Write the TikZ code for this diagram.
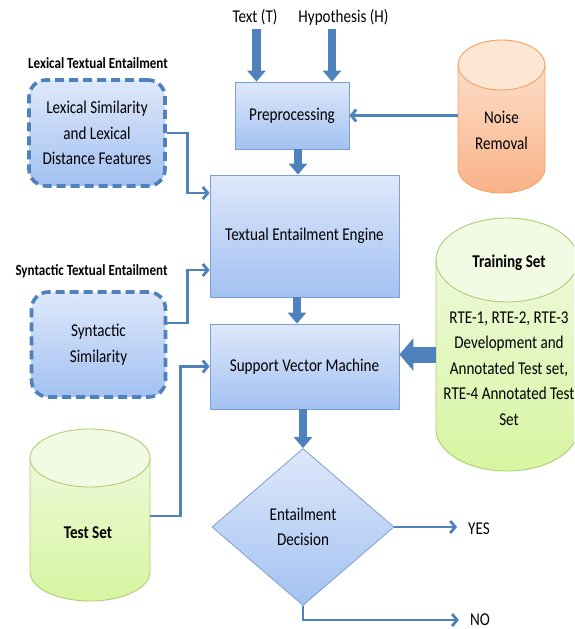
\documentclass[tikz,border=0pt]{standalone}
\usepackage{fontspec}
\setmainfont{Carlito}[FakeStretch=0.84]
\usetikzlibrary{shapes.geometric,arrows.meta}

\definecolor{boxtop}{RGB}{222,232,250}
\definecolor{boxbot}{RGB}{163,193,242}
\definecolor{boxedge}{RGB}{125,160,210}
\definecolor{flow}{RGB}{79,129,189}
\definecolor{orgtop}{RGB}{253,230,212}
\definecolor{orgbot}{RGB}{249,178,136}
\definecolor{orgedge}{RGB}{247,160,90}
\definecolor{grntop}{RGB}{242,250,228}
\definecolor{grnbot}{RGB}{214,245,160}
\definecolor{grnedge}{RGB}{175,205,115}

% database cylinder: centre x, top-ellipse y, bottom-ellipse y, x radius, y radius,
% top colour, bottom colour, edge colour
\newcommand\dbcyl[8]{%
  \path[top color=#6, bottom color=#7]
    (#1-#4,#2) -- (#1-#4,#3)
    arc[start angle=180,end angle=360,x radius=#4,y radius=#5]
    -- (#1+#4,#2)
    arc[start angle=0,end angle=180,x radius=#4,y radius=#5] -- cycle;
  \fill[#6] (#1,#2) ellipse[x radius=#4,y radius=#5];
  \draw[#8, line width=0.9pt]
    (#1-#4,#2) -- (#1-#4,#3)
    arc[start angle=180,end angle=360,x radius=#4,y radius=#5]
    -- (#1+#4,#2)
    arc[start angle=0,end angle=180,x radius=#4,y radius=#5] -- cycle;
  \draw[#8, line width=0.9pt]
    (#1-#4,#2) arc[start angle=180,end angle=360,x radius=#4,y radius=#5];
}

\begin{document}
\begin{tikzpicture}[x=1pt,y=1pt,
  txt/.style={font=\fontsize{18}{25.5}\selectfont, align=center, inner sep=0pt},
  lbl/.style={font=\fontsize{15.5}{18}\selectfont\bfseries, inner sep=0pt},
  hdr/.style={font=\fontsize{18}{25.5}\selectfont\bfseries, inner sep=0pt},
  body/.style={inner sep=0pt, draw=none},
  procbox/.style={txt, draw=boxedge, line width=0.8pt, top color=boxtop, bottom color=boxbot},
  dashbox/.style={txt, draw=flow, line width=3.6pt, dash pattern=on 9pt off 5pt,
    rounded corners=17pt, top color=boxtop, bottom color=boxbot},
  decbox/.style={txt, diamond, aspect=1.159, minimum width=182pt, minimum height=157pt,
    draw=boxedge, line width=0.8pt, top color=boxtop, bottom color=boxbot},
  bigarrow/.style={draw=flow, line width=8.5pt, -{Triangle[width=18pt,length=11pt]}},
  widearrow/.style={draw=flow, line width=16pt, -{Triangle[width=32pt,length=14pt]}},
  thinarrow/.style={draw=flow, line width=2.8pt, -{Straight Barb[length=5pt,width=12pt]}}
]
\clip (0,0) rectangle (574,-629);

% stores
\dbcyl{501.5}{-65}{-168}{43.5}{25}{orgtop}{orgbot}{orgedge}
\dbcyl{507}{-260}{-429}{71}{42}{grntop}{grnbot}{grnedge}
\dbcyl{90}{-458}{-572}{60}{29}{grntop}{grnbot}{grnedge}

\node[body, minimum width=87pt, minimum height=153pt] (noisebody) at (501.5,-116.5) {};
\node[body, minimum width=142pt, minimum height=253pt] (trainbody) at (507,-344.5) {};
\node[body, minimum width=120pt, minimum height=172pt] (testbody) at (90,-515) {};

\node[txt] (noise) at (501.5,-130.5) {Noise\\Removal};
\node[hdr] (trainhead) at (509,-263) {Training Set};
\node[txt] (train) at (509,-368.5) {RTE-1, RTE-2, RTE-3\\Development and\\Annotated Test set,\\RTE-4 Annotated Test\\Set};
\node[hdr] (testhead) at (88,-533) {Test Set};

% processing steps
\node[procbox, minimum width=114pt, minimum height=67pt] (pre) at (292,-115.5) {Preprocessing};
\node[procbox, minimum width=189pt, minimum height=122pt] (eng) at (304.5,-236) {Textual Entailment Engine};
\node[procbox, minimum width=189pt, minimum height=85pt] (svm) at (304.5,-366.5) {Support Vector Machine};
\node[decbox] (dec) at (303,-527) {Entailment\\Decision};

% feature groups
\node[dashbox, minimum width=136pt, minimum height=106pt] (lex) at (97,-133) {Lexical Similarity\\and Lexical\\Distance Features};
\node[dashbox, minimum width=134pt, minimum height=105pt] (syn) at (98.5,-344.5) {Syntactic\\Similarity};
\node[lbl] (lexlbl) at (98,-63) {Lexical Textual Entailment};
\node[lbl] (synlbl) at (91.5,-271) {Syntactic Textual Entailment};

% inputs and outcomes
\node[txt] (textT) at (255,-17) {Text (T)};
\node[txt] (hyp) at (343.5,-17) {Hypothesis (H)};
\node[txt] (yes) at (479,-529) {YES};
\node[txt] (no) at (480,-620) {NO};

% main flow
\draw[bigarrow, shorten <=4pt] ([xshift=1.5pt]textT.south) -- ([xshift=1.5pt]textT.south |- pre.north);
\draw[bigarrow, shorten <=4pt] ([xshift=-11.5pt]hyp.south) -- ([xshift=-11.5pt]hyp.south |- pre.north);
\draw[bigarrow] ([xshift=6pt]pre.south) -- ([xshift=6pt]pre.south |- eng.north);
\draw[bigarrow] ([xshift=-7.5pt]eng.south) -- ([xshift=-7.5pt]eng.south |- svm.north);
\draw[bigarrow] (svm.south -| dec.north) -- (dec.north);
\draw[widearrow] ([yshift=12pt]svm.east -| trainbody.west) -- ([yshift=12pt]svm.east);

% side connectors
\draw[thinarrow] (pre.east -| noisebody.west) -- (pre.east);
\draw[thinarrow] (lex.east) -- ++(21,0) |- ([yshift=43pt]eng.west);
\draw[thinarrow] ([yshift=21.5pt]syn.east) -- ++(20.5,0) |- ([yshift=-34pt]eng.west);
\draw[thinarrow] ([yshift=-1pt]testbody.east) -- ++(30,0) |- (svm.west);
\draw[thinarrow] (dec.east) -- ([xshift=-11pt]yes.west |- dec.east);
\draw[thinarrow] (dec.south) |- ([xshift=-11pt]no.west);
\end{tikzpicture}
\end{document}
